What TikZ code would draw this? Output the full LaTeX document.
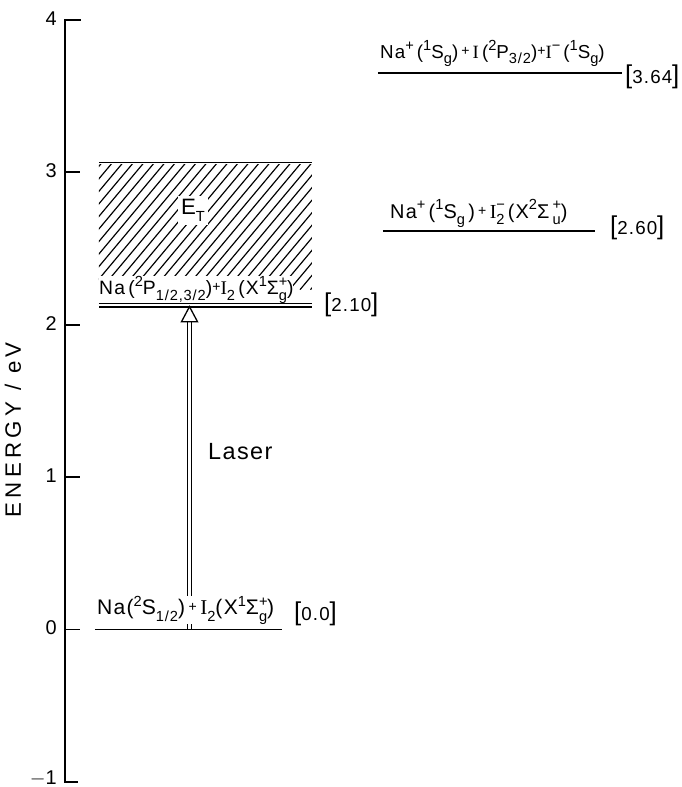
\documentclass[tikz,border=0pt]{standalone}
\usepackage{fontspec}
\setmainfont{Liberation Sans}[LetterSpace=6]
\newfontfamily\serifI{Liberation Serif}
\newfontfamily\widefont{Liberation Sans}[LetterSpace=20]
\usetikzlibrary{positioning}

\newcommand{\su}[1]{\raisebox{0.42em}{\fontsize{12.5}{12.5}\selectfont #1}}
\newcommand{\sd}[1]{\raisebox{-0.3em}{\fontsize{12.5}{12.5}\selectfont #1}}
\newcommand{\sud}[2]{\rlap{\su{#1}}\sd{#2}}
\newcommand{\Io}{{\serifI I}}
\newcommand{\pl}{\raisebox{0.15em}{\fontsize{12}{12}\selectfont+}}
\newcommand{\ev}[1]{{\fontsize{22}{22}\selectfont[}#1{\fontsize{22}{22}\selectfont]}}

\begin{document}
\begin{tikzpicture}[x=0.03cm, y=4.572cm,
    level/.style={line width=1.5pt},
    axis/.style={line width=1.5pt},
    hatch/.style={line width=1pt},
    lbl/.style={font=\fontsize{16}{16}\selectfont, inner sep=0pt, anchor=base west},
    val/.style={font=\fontsize{16}{16}\selectfont, inner sep=0pt, anchor=west},
    tick/.style={font=\fontsize{17}{17}\selectfont, inner sep=0pt, anchor=east}]
  \useasboundingbox (0,-1.033) rectangle (682,4.131);

  % energy axis
  \coordinate (top) at (65,4);
  \coordinate (bot) at (65,-1);
  \draw[axis] (81,4) -- (top) -- (bot) -- (78,-1);
  \foreach \e in {3,2,1,0} \draw[axis] (65,\e) -- (80,\e);
  \foreach \e/\t in {4/4,3/3,2/2,1/1,0/0} \node[tick] (t\e) at (57,\e+0.01) {\t};
  \node[tick] (tm1) at (57,-0.975) {$-$1};
  \node[rotate=90, font=\widefont\fontsize{19}{19}\selectfont] (ylab) at (13,1.31) {ENERGY / eV};

  % continuum E_T
  \coordinate (c0) at (99,3.064);
  \coordinate (c1) at (312,3.064);
  \draw[level] (c0) -- (c1);
  \begin{scope}
    \clip (99,3.05) rectangle (312,2.23);
    \foreach \i in {0,...,32} \draw[hatch] (\i*10.5-15,2.23) -- ++(114,0.893);
  \end{scope}
  \node[fill=white, inner sep=3pt, font=\fontsize{19}{19}\selectfont] (et) at (193,2.75) {E\sd{T}};

  % Na(2P) level
  \coordinate (p0) at (99,2.129);
  \coordinate (p1) at (312,2.129);
  \draw[line width=1.1pt, double, double distance=2.2pt] (p0) -- (p1);
  \node[lbl, fill=white, font=\fontsize{16.5}{16.5}\selectfont] (plab) at (99,2.20)
    {Na\,(\su{2}P\sd{1/2,3/2})\pl\Io\sd{2}\,(X\su{1}Σ\sud{+}{g})};
  \node[val] (pval) at (324,2.13) {\ev{2.10}};

  % laser
  \coordinate (las0) at (189.5,0);
  \coordinate (las1) at (189.5,2.02);
  \coordinate (tip) at (189.5,2.119);
  \draw[line width=1.1pt, double, double distance=2.6pt] (las0) -- (las1);
  \draw[line width=1.1pt, fill=white] (tip) -- ++(-8,-0.099) -- ++(16,0) -- cycle;
  \node[lbl, font=\fontsize{20}{20}\selectfont] (laser) at (208,1.113) {Laser};

  % ground level
  \coordinate (g0) at (95,0);
  \coordinate (g1) at (282,0);
  \draw[level] (g0) -- (g1);
  \node[lbl, fill=white, font=\fontsize{18}{18}\selectfont] (glab) at (97,0.096)
    {Na(\su{2}S\sd{1/2})\,\pl\,\Io\sd{2}(X\su{1}Σ\sud{+}{g})};
  \node[val] (gval) at (294,0.10) {\ev{0.0}};

  % ion pair
  \coordinate (i0) at (383,2.615);
  \coordinate (i1) at (595,2.615);
  \draw[level] (i0) -- (i1);
  \node[lbl, font=\fontsize{17}{17}\selectfont] (ilab) at (390,2.70)
    {Na\su{+}\,(\su{1}S\sd{g}\,)\,\pl\,\Io\sud{−}{2}\,(X\su{2}Σ\,\sud{+}{u})};
  \node[val] (ival) at (610,2.635) {\ev{2.60}};

  % three body
  \coordinate (b0) at (378,3.650);
  \coordinate (b1) at (622,3.650);
  \draw[level] (b0) -- (b1);
  \node[lbl] (blab) at (380,3.75)
    {Na\su{+}\,(\su{1}S\sd{g})\,\pl\,\Io\,(\su{2}P\sd{3/2})\pl\Io\su{−}\,(\su{1}S\sd{g})};
  \node[val] (bval) at (625,3.626) {\ev{3.64}};
\end{tikzpicture}
\end{document}
